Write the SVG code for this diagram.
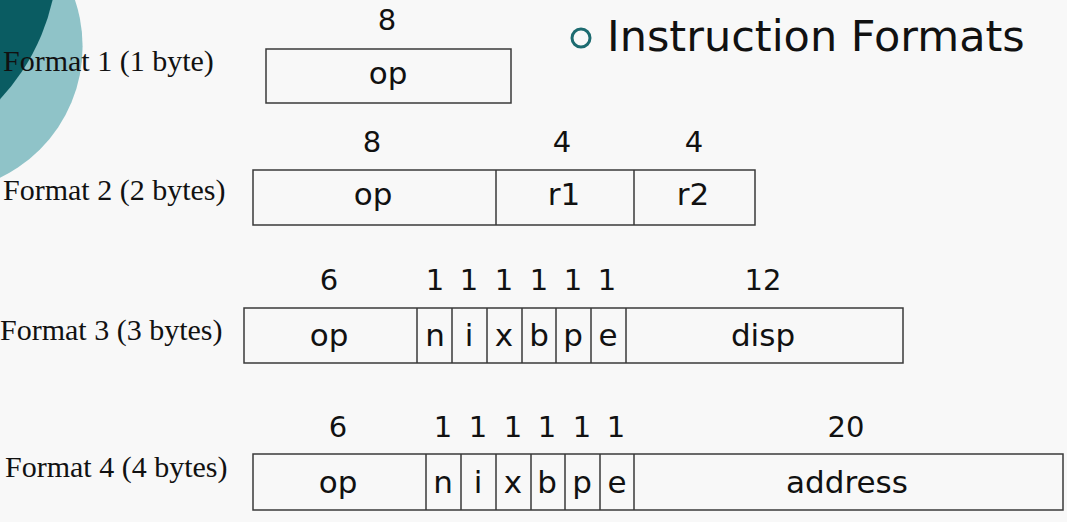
<svg xmlns="http://www.w3.org/2000/svg" width="1067" height="522" viewBox="0 0 1067 522">
<style>
.bg{fill:#f8f8f8}
.box{fill:none;stroke:#3a3a3a;stroke-width:1.5}
.div{stroke:#3a3a3a;stroke-width:1.5}
.lbl{font-family:"Liberation Serif",serif;font-size:30px;fill:#111}
.num{font-family:"DejaVu Sans",Verdana,sans-serif;font-size:29px;fill:#111;text-anchor:middle}
.fld{font-family:"DejaVu Sans",Verdana,sans-serif;font-size:31px;fill:#111;text-anchor:middle}
.title{font-family:"DejaVu Sans",Verdana,sans-serif;font-size:43px;fill:#111}
</style>
<rect class="bg" x="0" y="0" width="1067" height="522"/>
<g id="decor">
<circle cx="-63" cy="46.5" r="145.6" fill="#8fc3c8"/>
<circle cx="-158" cy="-48" r="216" fill="#0a5c62"/>
</g>
<g id="title">
<circle cx="581" cy="38" r="9" fill="none" stroke="#1d6b70" stroke-width="3"/>
<text class="title" x="607" y="51">Instruction Formats</text>
</g>
<g id="format1">
<text class="lbl" x="3" y="71">Format 1 (1 byte)</text>
<text class="num" x="387" y="30">8</text>
<rect class="box" x="266" y="49" width="245" height="54"/>
<text class="fld" x="388" y="84">op</text>
</g>
<g id="format2">
<text class="lbl" x="3" y="200">Format 2 (2 bytes)</text>
<text class="num" x="372" y="152">8</text>
<text class="num" x="562" y="152">4</text>
<text class="num" x="694" y="152">4</text>
<rect class="box" x="253" y="170" width="502" height="55"/>
<line class="div" x1="496" y1="170" x2="496" y2="225"/>
<line class="div" x1="634" y1="170" x2="634" y2="225"/>
<text class="fld" x="373" y="205">op</text>
<text class="fld" x="564" y="205">r1</text>
<text class="fld" x="693" y="205">r2</text>
</g>
<g id="format3">
<text class="lbl" x="0" y="340">Format 3 (3 bytes)</text>
<text class="num" x="329" y="290">6</text>
<text class="num" x="435" y="290">1</text>
<text class="num" x="469" y="290">1</text>
<text class="num" x="504" y="290">1</text>
<text class="num" x="539" y="290">1</text>
<text class="num" x="573" y="290">1</text>
<text class="num" x="607" y="290">1</text>
<text class="num" x="763" y="290">12</text>
<rect class="box" x="244" y="308" width="659" height="55"/>
<line class="div" x1="417" y1="308" x2="417" y2="363"/>
<line class="div" x1="452" y1="308" x2="452" y2="363"/>
<line class="div" x1="487" y1="308" x2="487" y2="363"/>
<line class="div" x1="522" y1="308" x2="522" y2="363"/>
<line class="div" x1="556" y1="308" x2="556" y2="363"/>
<line class="div" x1="591" y1="308" x2="591" y2="363"/>
<line class="div" x1="626" y1="308" x2="626" y2="363"/>
<text class="fld" x="329" y="346">op</text>
<text class="fld" x="435" y="346">n</text>
<text class="fld" x="469" y="346">i</text>
<text class="fld" x="504" y="346">x</text>
<text class="fld" x="539" y="346">b</text>
<text class="fld" x="573" y="346">p</text>
<text class="fld" x="608" y="346">e</text>
<text class="fld" x="763" y="346">disp</text>
</g>
<g id="format4">
<text class="lbl" x="5" y="477">Format 4 (4 bytes)</text>
<text class="num" x="338" y="437">6</text>
<text class="num" x="443" y="437">1</text>
<text class="num" x="478" y="437">1</text>
<text class="num" x="513" y="437">1</text>
<text class="num" x="547" y="437">1</text>
<text class="num" x="582" y="437">1</text>
<text class="num" x="616" y="437">1</text>
<text class="num" x="846" y="437">20</text>
<rect class="box" x="253" y="454" width="810" height="56"/>
<line class="div" x1="426" y1="454" x2="426" y2="510"/>
<line class="div" x1="461" y1="454" x2="461" y2="510"/>
<line class="div" x1="496" y1="454" x2="496" y2="510"/>
<line class="div" x1="531" y1="454" x2="531" y2="510"/>
<line class="div" x1="565" y1="454" x2="565" y2="510"/>
<line class="div" x1="600" y1="454" x2="600" y2="510"/>
<line class="div" x1="634" y1="454" x2="634" y2="510"/>
<text class="fld" x="338" y="493">op</text>
<text class="fld" x="443" y="493">n</text>
<text class="fld" x="478" y="493">i</text>
<text class="fld" x="513" y="493">x</text>
<text class="fld" x="547" y="493">b</text>
<text class="fld" x="582" y="493">p</text>
<text class="fld" x="617" y="493">e</text>
<text class="fld" x="847" y="493">address</text>
</g>
</svg>
